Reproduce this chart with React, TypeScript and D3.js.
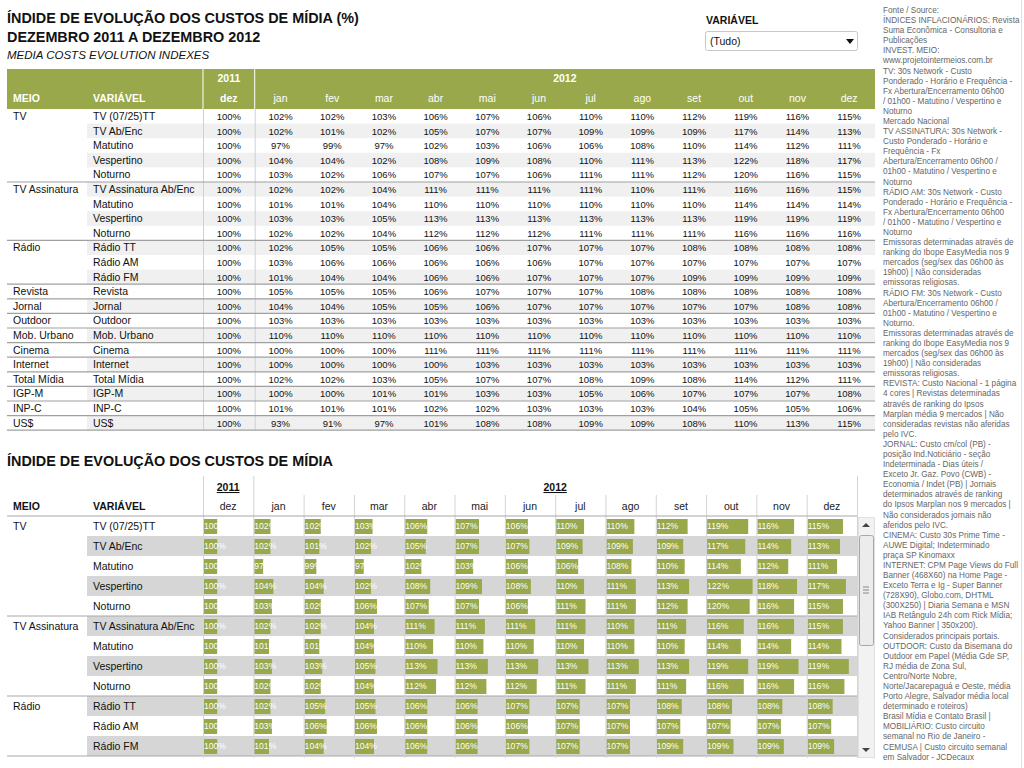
import React from 'react';
import * as d3 from 'd3';

// --- DATA ---
const months2012 = ['jan', 'fev', 'mar', 'abr', 'mai', 'jun', 'jul', 'ago', 'set', 'out', 'nov', 'dez'];
const columns = ['dez2011', ...months2012.map(m => m + '2012')];

const meioGroups = [
  { meio: 'TV', rows: ['TV (07/25)TT', 'TV Ab/Enc', 'Matutino', 'Vespertino', 'Noturno'] },
  { meio: 'TV Assinatura', rows: ['TV Assinatura Ab/Enc', 'Matutino', 'Vespertino', 'Noturno'] },
  { meio: 'Rádio', rows: ['Rádio TT', 'Rádio AM', 'Rádio FM'] },
  { meio: 'Revista', rows: ['Revista'] },
  { meio: 'Jornal', rows: ['Jornal'] },
  { meio: 'Outdoor', rows: ['Outdoor'] },
  { meio: 'Mob. Urbano', rows: ['Mob. Urbano'] },
  { meio: 'Cinema', rows: ['Cinema'] },
  { meio: 'Internet', rows: ['Internet'] },
  { meio: 'Total Mídia', rows: ['Total Mídia'] },
  { meio: 'IGP-M', rows: ['IGP-M'] },
  { meio: 'INP-C', rows: ['INP-C'] },
  { meio: 'US$', rows: ['US$'] },
];

// index values: dez/2011 then jan..dez/2012
const values: number[][] = [
  [100, 102, 102, 103, 106, 107, 106, 110, 110, 112, 119, 116, 115],
  [100, 102, 101, 102, 105, 107, 107, 109, 109, 109, 117, 114, 113],
  [100, 97, 99, 97, 102, 103, 106, 106, 108, 110, 114, 112, 111],
  [100, 104, 104, 102, 108, 109, 108, 110, 111, 113, 122, 118, 117],
  [100, 103, 102, 106, 107, 107, 106, 111, 111, 112, 120, 116, 115],
  [100, 102, 102, 104, 111, 111, 111, 111, 110, 111, 116, 116, 115],
  [100, 101, 101, 104, 110, 110, 110, 110, 110, 110, 114, 114, 114],
  [100, 103, 103, 105, 113, 113, 113, 113, 113, 113, 119, 119, 119],
  [100, 102, 102, 104, 112, 112, 112, 111, 111, 111, 116, 116, 116],
  [100, 102, 105, 105, 106, 106, 107, 107, 107, 108, 108, 108, 108],
  [100, 103, 106, 106, 106, 106, 106, 107, 107, 107, 107, 107, 107],
  [100, 101, 104, 104, 106, 106, 107, 107, 107, 109, 109, 109, 109],
  [100, 105, 105, 105, 106, 107, 107, 107, 108, 108, 108, 108, 108],
  [100, 104, 104, 105, 105, 106, 107, 107, 107, 107, 107, 108, 108],
  [100, 103, 103, 103, 103, 103, 103, 103, 103, 103, 103, 103, 103],
  [100, 110, 110, 110, 110, 110, 110, 110, 110, 110, 110, 110, 110],
  [100, 100, 100, 100, 111, 111, 111, 111, 111, 111, 111, 111, 111],
  [100, 100, 100, 100, 100, 103, 103, 103, 103, 103, 103, 103, 103],
  [100, 102, 102, 103, 105, 107, 107, 108, 109, 108, 114, 112, 111],
  [100, 100, 100, 101, 101, 103, 103, 105, 106, 107, 107, 107, 108],
  [100, 101, 101, 101, 102, 102, 103, 103, 103, 104, 105, 105, 106],
  [100, 93, 91, 97, 101, 108, 108, 109, 109, 108, 110, 113, 115],
];

const sourceLines = [
  'Fonte / Source:',
  'ÍNDICES INFLACIONÁRIOS: Revista',
  'Suma Econômica - Consultoria e',
  'Publicações',
  'INVEST. MEIO:',
  'www.projetointermeios.com.br',
  'TV: 30s Network - Custo',
  'Ponderado - Horário e Frequência -',
  'Fx Abertura/Encerramento 06h00',
  '/ 01h00 - Matutino / Vespertino e',
  'Noturno',
  'Mercado Nacional',
  'TV ASSINATURA: 30s Network -',
  'Custo Ponderado - Horário e',
  'Frequência - Fx',
  'Abertura/Encerramento 06h00 /',
  '01h00 - Matutino / Vespertino e',
  'Noturno',
  'RÁDIO AM: 30s Network - Custo',
  'Ponderado - Horário e Frequência -',
  'Fx Abertura/Encerramento 06h00',
  '/ 01h00 - Matutino / Vespertino e',
  'Noturno',
  'Emissoras determinadas através de',
  'ranking do Ibope EasyMedia nos 9',
  'mercados (seg/sex das 06h00 às',
  '19h00) | Não consideradas',
  'emissoras religiosas.',
  'RÁDIO FM: 30s Network - Custo',
  'Abertura/Encerramento 06h00 /',
  '01h00 - Matutino / Vespertino e',
  'Noturno.',
  'Emissoras determinadas através de',
  'ranking do Ibope EasyMedia nos 9',
  'mercados (seg/sex das 06h00 às',
  '19h00) | Não consideradas',
  'emissoras religiosas.',
  'REVISTA: Custo Nacional - 1 página',
  '4 cores | Revistas determinadas',
  'através de ranking do Ipsos',
  'Marplan média 9 mercados | Não',
  'consideradas revistas não aferidas',
  'pelo IVC.',
  'JORNAL: Custo cm/col (PB) -',
  'posição Ind.Noticiário - seção',
  'Indeterminada - Dias úteis /',
  'Exceto Jr. Gaz. Povo (CWB) -',
  'Economia / Indet (PB) | Jornais',
  'determinados através de ranking',
  'do Ipsos Marplan nos 9 mercados |',
  'Não considerados jornais não',
  'aferidos pelo IVC.',
  'CINEMA: Custo 30s Prime Time -',
  'AUWE Digital; Indeterminado',
  'praça SP Kinomaxx',
  'INTERNET: CPM Page Views do Full',
  'Banner (468X60) na Home Page -',
  'Exceto Terra e Ig - Super Banner',
  '(728X90), Globo.com, DHTML',
  '(300X250) | Diaria Semana e MSN',
  'IAB Retângulo 24h com Rick Mídia;',
  'Yahoo Banner | 350x200).',
  'Considerados principais portais.',
  'OUTDOOR: Custo da Bisemana do',
  'Outdoor em Papel (Média Gde SP,',
  'RJ média de Zona Sul,',
  'Centro/Norte Nobre,',
  'Norte/Jacarepaguá e Oeste, média',
  'Porto Alegre, Salvador média local',
  'determinado e roteiros)',
  'Brasil Mídia e Contato Brasil |',
  'MOBILIÁRIO: Custo circuito',
  'semanal no Rio de Janeiro -',
  'CEMUSA | Custo circuito semanal',
  'em Salvador - JCDecaux',
];

// flatten groups into rows
const rows = meioGroups.flatMap(g =>
  g.rows.map((variavel, i) => ({ meio: g.meio, variavel, first: i === 0 }))
).map((r, i) => ({ ...r, index: i, vals: values[i] }));

const FONT = '"Liberation Sans", Arial, sans-serif';
const GREEN = '#98a84a';

const App: React.FC = () => {
  // --- TOP TABLE SCALES ---
  const xTop = d3.scaleBand<string>().domain(columns).range([203, 875]);
  const yTop = d3.scaleBand<number>().domain(rows.map(r => r.index)).range([109, 109 + rows.length * 14.6]);

  // --- BOTTOM TABLE SCALES ---
  const bottomRows = rows.slice(0, 13);
  const xBot = d3.scaleBand<string>().domain(columns).range([203, 857]);
  const yBot = d3.scaleBand<number>().domain(bottomRows.map(r => r.index)).range([516, 516 + bottomRows.length * 20]);
  const barW = d3.scaleLinear().domain([91, 123]).range([0, 47]);

  const topBottom = yTop.range()[1];
  const monthsStartTop = xTop('jan2012')!;
  const monthsStartBot = xBot('jan2012')!;

  return (
    <svg width={1024} height={768} style={{ position: 'absolute', left: 0, top: 0, background: '#fff' }} fontFamily={FONT}>
      <defs>
        <clipPath id="botClip">
          <rect x={0} y={516} width={860} height={242} />
        </clipPath>
      </defs>

      {/* titles */}
      <text x={7} y={23} fontSize={14.4} fontWeight="bold" fill="#111">ÍNDIDE DE EVOLUÇÃO DOS CUSTOS DE MÍDIA (%)</text>
      <text x={7} y={42} fontSize={14.4} fontWeight="bold" fill="#111">DEZEMBRO 2011 A DEZEMBRO 2012</text>
      <text x={7} y={58.5} fontSize={11.5} fontStyle="italic" fill="#111">MEDIA COSTS EVOLUTION INDEXES</text>

      {/* filter */}
      <text x={706} y={24} fontSize={10.5} fontWeight="bold" fill="#111">VARIÁVEL</text>
      <rect x={705.5} y={31.5} width={152} height={19} rx={2} fill="#fff" stroke="#c8c8c8" />
      <text x={710} y={45} fontSize={10.5} fill="#111">(Tudo)</text>
      <path d="M846,39 L854,39 L850,44 Z" fill="#111" />

      {/* ===== TOP TABLE ===== */}
      <rect x={7} y={69} width={868} height={40} fill={GREEN} />
      <line x1={203} x2={203} y1={69} y2={109} stroke="#fff" />
      <line x1={monthsStartTop} x2={monthsStartTop} y1={69} y2={109} stroke="#fff" />
      <text x={13} y={102} fontSize={10.5} fontWeight="bold" fill="#fff">MEIO</text>
      <text x={93} y={102} fontSize={10.5} fontWeight="bold" fill="#fff">VARIÁVEL</text>
      <text x={xTop('dez2011')! + xTop.bandwidth() / 2} y={82} fontSize={10.5} fontWeight="bold" fill="#fff" textAnchor="middle">2011</text>
      <text x={(monthsStartTop + 875) / 2} y={82} fontSize={10.5} fontWeight="bold" fill="#fff" textAnchor="middle">2012</text>
      {columns.map((c, i) => (
        <text key={c} x={xTop(c)! + xTop.bandwidth() / 2} y={102} fontSize={10.5}
          fontWeight={i === 0 ? 'bold' : 'normal'} fill="#fff" textAnchor="middle">
          {i === 0 ? 'dez' : months2012[i - 1]}
        </text>
      ))}

      {rows.map(r => {
        const y0 = yTop(r.index)!;
        const h = yTop.bandwidth();
        return (
          <g key={'t' + r.index}>
            {r.index % 2 === 1 && <rect x={87} y={y0} width={875 - 87} height={h} fill="#f0f0f0" />}
          </g>
        );
      })}
      <line x1={203.5} x2={203.5} y1={109} y2={topBottom} stroke="#d0d0d0" />
      <line x1={monthsStartTop + 0.5} x2={monthsStartTop + 0.5} y1={109} y2={topBottom} stroke="#d0d0d0" />
      {rows.map(r => {
        const y0 = yTop(r.index)!;
        const cy = y0 + yTop.bandwidth() / 2 + 3.6;
        return (
          <g key={'tt' + r.index}>
            {r.first && r.index > 0 && <line x1={7} x2={875} y1={y0} y2={y0} stroke="#a0a0a0" strokeWidth={1.2} />}
            {r.first && <text x={13} y={cy} fontSize={10.5} fill="#111">{r.meio}</text>}
            <text x={93} y={cy} fontSize={10.5} fill="#111">{r.variavel}</text>
            {r.vals.map((v, j) => (
              <text key={j} x={xTop(columns[j])! + xTop.bandwidth() / 2} y={cy} fontSize={9.5} fill="#111" textAnchor="middle">{v}%</text>
            ))}
          </g>
        );
      })}
      <line x1={7} x2={875} y1={topBottom} y2={topBottom} stroke="#a0a0a0" strokeWidth={1.2} />

      {/* ===== BOTTOM TABLE ===== */}
      <text x={7} y={466} fontSize={14.4} fontWeight="bold" fill="#111">ÍNDIDE DE EVOLUÇÃO DOS CUSTOS DE MÍDIA</text>
      <text x={xBot('dez2011')! + xBot.bandwidth() / 2} y={491} fontSize={10.5} fontWeight="bold" fill="#111" textAnchor="middle" textDecoration="underline">2011</text>
      <text x={(monthsStartBot + 857) / 2} y={491} fontSize={10.5} fontWeight="bold" fill="#111" textAnchor="middle" textDecoration="underline">2012</text>
      <text x={13} y={510} fontSize={10.5} fontWeight="bold" fill="#111">MEIO</text>
      <text x={93} y={510} fontSize={10.5} fontWeight="bold" fill="#111">VARIÁVEL</text>
      {columns.map((c, i) => (
        <text key={'bh' + c} x={xBot(c)! + xBot.bandwidth() / 2} y={510} fontSize={10.5} fill="#222" textAnchor="middle">
          {i === 0 ? 'dez' : months2012[i - 1]}
        </text>
      ))}

      <g clipPath="url(#botClip)">
        {bottomRows.map(r => {
          const y0 = yBot(r.index)!;
          return r.index % 2 === 1
            ? <rect key={'bs' + r.index} x={87} y={y0} width={857 - 87} height={yBot.bandwidth()} fill="#d6d6d6" />
            : null;
        })}
        {bottomRows.map(r => {
          const y0 = yBot(r.index)!;
          const cy = y0 + yBot.bandwidth() / 2;
          return (
            <g key={'b' + r.index}>
              {r.first && r.index > 0 && <line x1={7} x2={857} y1={y0} y2={y0} stroke="#a8a8a8" strokeWidth={1.2} />}
              {r.first && <text x={13} y={cy + 3.6} fontSize={10.5} fill="#111">{r.meio}</text>}
              <text x={93} y={cy + 3.6} fontSize={10.5} fill="#111">{r.variavel}</text>
              {r.vals.map((v, j) => {
                const x0 = xBot(columns[j])! + 1;
                return (
                  <g key={j}>
                    <rect x={x0} y={y0 + 3} width={barW(v)} height={yBot.bandwidth() - 5} fill={GREEN} />
                    <text x={x0} y={cy + 3} fontSize={8.6} fill="#fff">{v}%</text>
                  </g>
                );
              })}
            </g>
          );
        })}
      </g>
      {/* column grid */}
      <line x1={203.5} x2={203.5} y1={476} y2={758} stroke="#d4d4d4" />
      {columns.slice(1).map(c => (
        <line key={'g' + c} x1={xBot(c)! + 0.5} x2={xBot(c)! + 0.5}
          y1={c === 'jan2012' ? 476 : 495} y2={758} stroke="#d4d4d4" />
      ))}
      <line x1={857.5} x2={857.5} y1={476} y2={758} stroke="#d4d4d4" />
      <line x1={7} x2={857} y1={516} y2={516} stroke="#a8a8a8" strokeWidth={1.2} />

      {/* scrollbar */}
      <rect x={858.5} y={517.5} width={16} height={240} fill="#f2f2f2" stroke="#e0e0e0" />
      <path d="M862,527 L870,527 L866,523 Z" fill="#444" />
      <path d="M862,748 L870,748 L866,752 Z" fill="#444" />
      <rect x={859.5} y={535.5} width={14} height={110} rx={2} fill="#ececec" stroke="#a8a8a8" />
      {[587, 590, 593].map(y => (
        <line key={y} x1={863} x2={869} y1={y} y2={y} stroke="#888" />
      ))}

      {/* source notes */}
      <line x1={1021.5} x2={1021.5} y1={0} y2={768} stroke="#e0e0e0" />
      {sourceLines.map((s, i) => (
        <text key={'s' + i} x={883} y={13 + i * 10.09} fontSize={8.2} fill="#666">{s}</text>
      ))}
    </svg>
  );
};

export default App;
